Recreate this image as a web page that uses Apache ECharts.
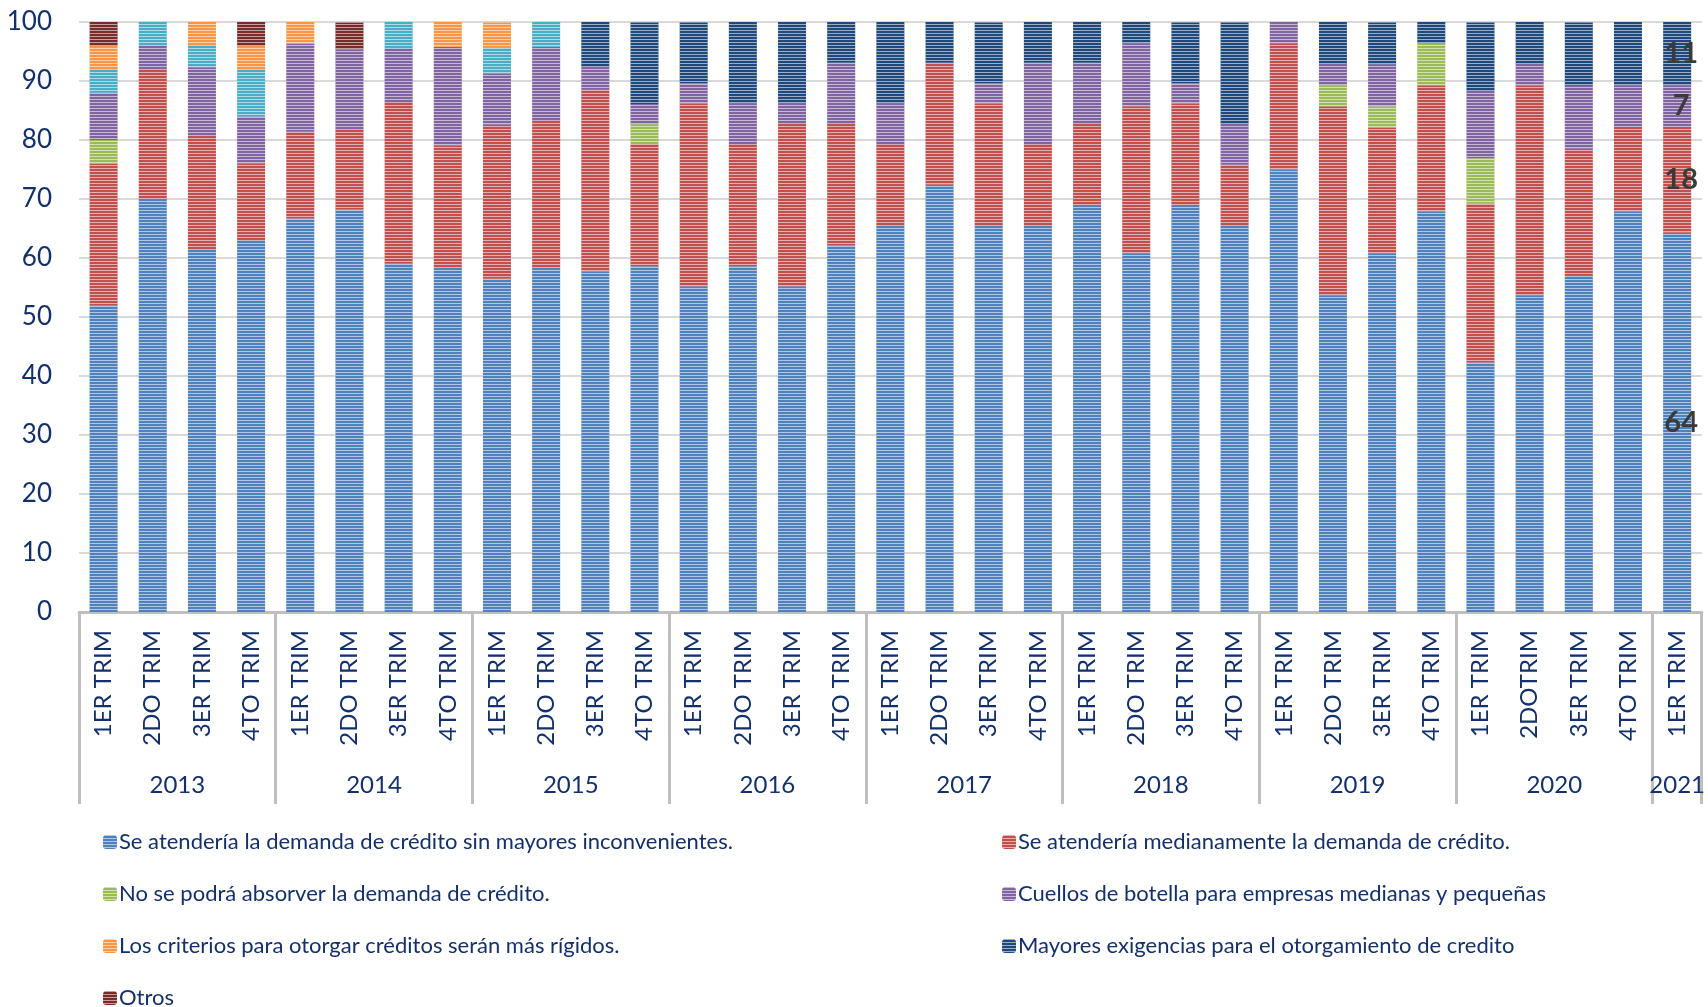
<!DOCTYPE html>
<html><head><meta charset="utf-8">
<script src="https://cdn.jsdelivr.net/npm/echarts@6/dist/echarts.min.js"></script>
<style>html,body{margin:0;padding:0;background:#fff;overflow:hidden}#c{width:1708px;height:1007px}</style>
</head><body><div id="c"></div>
<script>
// ---- data ----
const quarterLabels = [
  '1ER TRIM','2DO TRIM','3ER TRIM','4TO TRIM',
  '1ER TRIM','2DO TRIM','3ER TRIM','4TO TRIM',
  '1ER TRIM','2DO TRIM','3ER TRIM','4TO TRIM',
  '1ER TRIM','2DO TRIM','3ER TRIM','4TO TRIM',
  '1ER TRIM','2DO TRIM','3ER TRIM','4TO TRIM',
  '1ER TRIM','2DO TRIM','3ER TRIM','4TO TRIM',
  '1ER TRIM','2DO TRIM','3ER TRIM','4TO TRIM',
  '1ER TRIM','2DOTRIM','3ER TRIM','4TO TRIM',
  '1ER TRIM'
];
const years = ['2013','2014','2015','2016','2017','2018','2019','2020','2021'];
const yTicks = [0,10,20,30,40,50,60,70,80,90,100];

const sinInconvenientes = [52,70,61.5,63, 66.7,68.2,59.1,58.3, 56.5,58.3,57.7,58.6, 55.2,58.6,55.2,62.1, 65.5,72.4,65.5,65.5, 69.0,60.7,69.0,65.5, 75.0,53.6,60.7,67.9, 42.3,53.6,57.1,67.9, 64.3];
const medianamente      = [24,22,19.2,13, 14.8,13.6,27.3,20.8, 26.1,25.0,30.8,20.7, 31.0,20.7,27.6,20.7, 13.8,20.7,20.7,13.8, 13.8,25.0,17.2,10.3, 21.4,32.1,21.4,21.4, 26.9,35.7,21.4,14.3, 17.9];
const noAbsorber        = [4,0,0,0, 0,0,0,0, 0,0,0,3.4, 0,0,0,0, 0,0,0,0, 0,0,0,0, 0,3.6,3.6,7.1, 7.7,0,0,0, 0];
const cuellosBotella    = [8,4,11.5,8, 14.8,13.6,9.1,16.7, 8.7,12.5,3.8,3.4, 3.4,6.9,3.4,10.3, 6.9,0,3.4,13.8, 10.3,10.7,3.4,6.9, 3.6,3.6,7.1,0, 11.5,3.6,10.7,7.1, 7.1];
const sinLeyenda        = [4,4,3.9,8, 0,0,4.5,0, 4.3,4.2,0,0, 0,0,0,0, 0,0,0,0, 0,0,0,0, 0,0,0,0, 0,0,0,0, 0];
const criteriosRigidos  = [4,0,3.9,4, 3.7,0,0,4.2, 4.3,0,0,0, 0,0,0,0, 0,0,0,0, 0,0,0,0, 0,0,0,0, 0,0,0,0, 0];
const mayoresExigencias = [0,0,0,0, 0,0,0,0, 0,0,7.7,13.8, 10.3,13.8,13.8,6.9, 13.8,6.9,10.3,6.9, 6.9,3.6,10.3,17.2, 0,7.1,7.1,3.6, 11.5,7.1,10.7,10.7, 10.7];
const otros             = [4,0,0,4, 0,4.5,0,0, 0,0,0,0, 0,0,0,0, 0,0,0,0, 0,0,0,0, 0,0,0,0, 0,0,0,0, 0];

const seriesDefs = [
  {name:'Se atendería la demanda de crédito sin mayores inconvenientes.', data:sinInconvenientes, color:'#4F81BD', lbl:true},
  {name:'Se atendería medianamente la demanda de crédito.', data:medianamente, color:'#C0504D', lbl:true},
  {name:'No se podrá absorver la demanda de crédito.', data:noAbsorber, color:'#9BBB59', lbl:false},
  {name:'Cuellos de botella para empresas medianas y pequeñas', data:cuellosBotella, color:'#8064A2', lbl:true},
  {name:'Sin leyenda', data:sinLeyenda, color:'#4BACC6', lbl:false},
  {name:'Los criterios para otorgar créditos serán más rígidos.', data:criteriosRigidos, color:'#F79646', lbl:false},
  {name:'Mayores exigencias para el otorgamiento de credito', data:mayoresExigencias, color:'#1F497D', lbl:true},
  {name:'Otros', data:otros, color:'#772C2A', lbl:false}
];

// ---- chart ----
const navy = '#13306B';
const font = 'Lato';
const lastIdx = quarterLabels.length - 1;
// half-slot categories for the year axis (2 per quarter + 1 endpoint)
const halfSlots = [];
for (let i = 0; i <= quarterLabels.length * 2; i++) {
  halfSlots.push(years[Math.min(Math.floor(i / 8), years.length - 1)]);
}

const series = seriesDefs.map(s => ({
  name: s.name,
  type: 'bar',
  stack: 'total',
  barWidth: 28,
  xAxisIndex: 0,
  itemStyle: {
    color: s.color,
    decal: {symbol:'rect', symbolSize:1, dashArrayX:[1,0], dashArrayY:[1,2], color:'rgba(255,255,255,0.55)', rotation:0}
  },
  data: s.data.map((v, i) => (s.lbl && i === lastIdx) ? {
    value: v,
    label: {show:true, position:'inside', offset:[4,0], formatter: p => Math.round(p.value),
            fontSize:29, fontWeight:'bold', color:'#3a3a3a', fontFamily:font}
  } : v)
}));

const legendBase = {orient:'vertical', itemWidth:14, itemHeight:14, itemGap:30, height:400,
  textStyle:{fontSize:22, color:navy, fontFamily:font, lineHeight:22, padding:[0,0,0,-3]}};

const chart = echarts.init(document.getElementById('c'), null, {renderer:'canvas'});
chart.setOption({
  animation: false,
  backgroundColor: '#ffffff',
  grid: {left:79, right:-3, top:22, bottom:395, containLabel:false},
  legend: [
    Object.assign({}, legendBase, {left:98, top:826,
      data:[seriesDefs[0].name, seriesDefs[2].name, seriesDefs[5].name]}),
    Object.assign({}, legendBase, {left:98, top:826 + 3*52,
      data:[seriesDefs[7].name]}),
    Object.assign({}, legendBase, {left:997, top:826,
      data:[seriesDefs[1].name, seriesDefs[3].name, seriesDefs[6].name]})
  ],
  xAxis: [
    {type:'category', data:quarterLabels, position:'bottom', boundaryGap:true,
     axisLine:{show:true, lineStyle:{color:'#BFBFBF', width:3}},
     axisTick:{show:false},
     axisLabel:{rotate:90, margin:18, fontSize:24, color:navy, fontFamily:font, interval:0}},
    {type:'category', data:halfSlots, position:'bottom', offset:0, boundaryGap:false,
     axisLine:{show:false},
     axisTick:{show:true, length:192, lineStyle:{color:'#BFBFBF', width:3},
               interval:(i) => i % 8 === 0 || i === halfSlots.length - 1},
     axisLabel:{margin:161, fontSize:24, color:navy, fontFamily:font,
                interval:(i) => i % 8 === 4 || i === halfSlots.length - 2}}
  ],
  yAxis: {type:'value', min:yTicks[0], max:yTicks[yTicks.length-1], interval:10,
    axisLine:{show:false}, axisTick:{show:false},
    splitLine:{lineStyle:{color:'#D9D9D9', width:2}},
    axisLabel:{fontSize:26, color:navy, fontFamily:font, margin:27}},
  series: series
});
</script></body></html>
